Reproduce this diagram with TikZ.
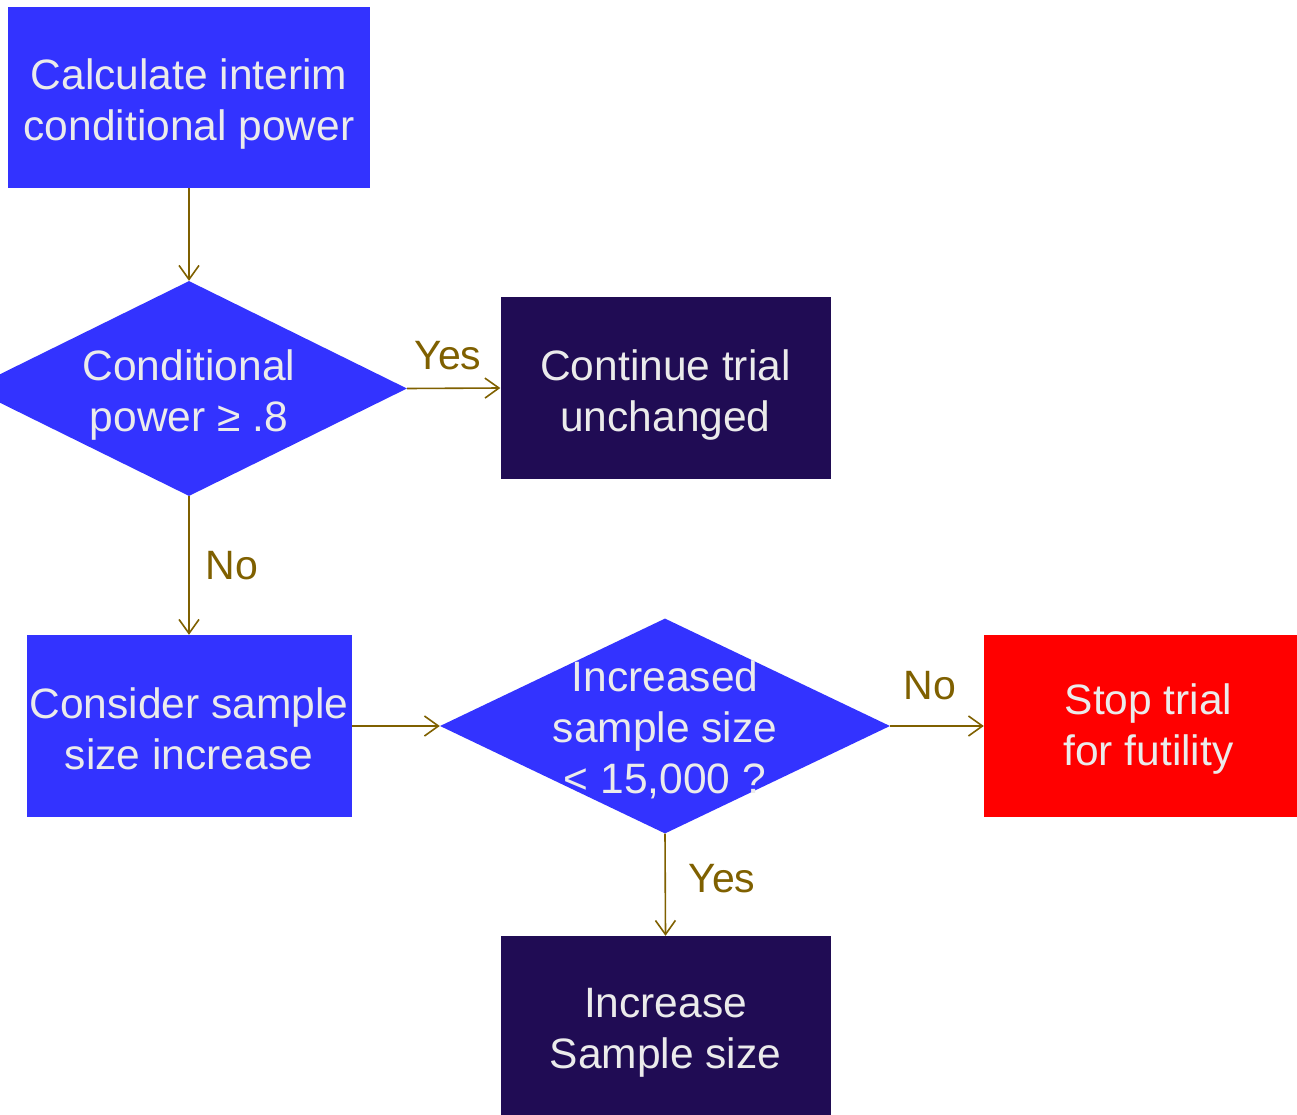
\documentclass[tikz,border=0pt]{standalone}
\usepackage{fontspec}
\setmainfont{Liberation Sans}
\usetikzlibrary{arrows.meta,shapes.geometric}
\definecolor{boxblue}{HTML}{3333FF}
\definecolor{boxdark}{HTML}{200C54}
\definecolor{stopred}{HTML}{FF0000}
\definecolor{arrowbrown}{HTML}{7F6000}
\definecolor{boxtext}{HTML}{EBEBEB}
\begin{document}
\begin{tikzpicture}[x=1pt,y=-1pt,
  boxtxt/.style={text=boxtext, align=center, font=\fontsize{42.5}{51}\selectfont, inner sep=0pt},
  box/.style={rectangle, inner sep=0pt, draw=none},
  dec/.style={diamond, inner sep=0pt, draw=none, fill=boxblue, minimum width=436pt, minimum height=215pt},
  conn/.style={draw=arrowbrown, line width=1.6pt, -{Straight Barb[length=14pt, width=20pt, line width=1.6pt]}},
  lbl/.style={text=arrowbrown, font=\fontsize{41}{49}\selectfont, inner sep=0pt}]
\useasboundingbox (0,0) rectangle (1297,1115);
% nodes
\node[box, fill=boxblue, minimum width=362pt, minimum height=181pt] (calc) at (189,97.5) {};
\node[boxtxt] (calct) at (189,104) {Calculate interim\\conditional power};
\node[dec] (d1) at (189,388.5) {};
\node[boxtxt] (d1t) at (189,395) {Conditional\\power ≥ .8};
\node[box, fill=boxdark, minimum width=330pt, minimum height=182pt] (cont) at (665.5,388) {};
\node[boxtxt] (contt) at (665.5,395) {Continue trial\\unchanged};
\node[box, fill=boxblue, minimum width=325pt, minimum height=182pt] (cons) at (189,726) {};
\node[boxtxt] (const) at (189,729) {Consider sample\\size increase};
\node[dec, minimum width=450pt] (d2) at (665,726) {};
\node[boxtxt] (d2t) at (665,730) {Increased\\sample size\\< 15,000 ?};
\node[box, fill=stopred, minimum width=313pt, minimum height=182pt] (stop) at (1140.5,726) {};
\node[boxtxt] (stopt) at (1148.5,729) {Stop trial\\for futility};
\node[box, fill=boxdark, minimum width=330pt, minimum height=180pt] (inc) at (665.5,1026) {};
\node[boxtxt] (inct) at (665.5,1033) {Increase\\Sample size};
% connectors
\draw[conn] (calc.south) -- (d1.north);
\draw[conn] (d1.east) -- (cont.west);
\draw[conn] (d1.south) -- (cons.north);
\draw[conn] (cons.east) -- (d2.west);
\draw[conn] (d2.east) -- (stop.west);
\draw[conn] (d2.south) -- (inc.north);
% labels
\node[lbl] (lyes1) at (448,356) {Yes};
\node[lbl] (lno1) at (232,566) {No};
\node[lbl] (lno2) at (930,686) {No};
\node[lbl] (lyes2) at (722,879) {Yes};
\end{tikzpicture}
\end{document}
